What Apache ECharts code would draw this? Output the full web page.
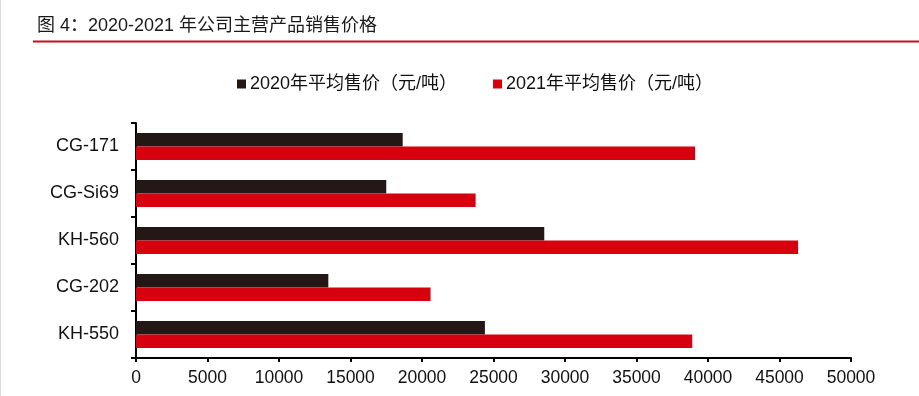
<!DOCTYPE html>
<html>
<head>
<meta charset="utf-8">
<script src="https://cdn.jsdelivr.net/npm/echarts@6/dist/echarts.min.js"></script>
<style>
html,body{margin:0;padding:0;background:#fff;}
#c{width:919px;height:396px;}
</style>
</head>
<body>
<div id="c"></div>
<script>
const titleText = '图 4：2020-2021 年公司主营产品销售价格';
const categories = ['CG-171', 'CG-Si69', 'KH-560', 'CG-202', 'KH-550'];
const seriesNames = ['2020年平均售价（元/吨）', '2021年平均售价（元/吨）'];
const price2020 = [18650, 17500, 28550, 13450, 24400];
const price2021 = [39100, 23750, 46300, 20600, 38900];
const xTicks = { min: 0, max: 50000, interval: 5000 };

const FONT = '"Liberation Sans", Arial, "Noto Sans CJK SC", sans-serif';
const chart = echarts.init(document.getElementById('c'), null, { renderer: 'canvas' });
chart.setOption({
  backgroundColor: '#fff',
  animation: false,
  textStyle: { fontFamily: FONT },
  graphic: [
    { type: 'rect', left: 0, top: 0, shape: { x: 0, y: 0, width: 1, height: 396 }, style: { fill: '#d9d9d9' } },
    { type: 'text', left: 37, top: 17, style: { text: titleText, font: '18px ' + FONT, fill: '#1a1a1a' } },
    { type: 'line', shape: { x1: 33, y1: 41.5, x2: 919, y2: 41.5 }, style: { stroke: '#c4101c', lineWidth: 2 } }
  ],
  legend: {
    left: 232, top: 70,
    itemWidth: 9, itemHeight: 9, itemGap: 36,
    icon: 'rect',
    textStyle: { fontSize: 18, color: '#111', fontFamily: FONT, padding: [0, 0, 0, -1] },
    data: seriesNames
  },
  grid: { left: 136, right: 68, top: 123, bottom: 38, containLabel: false },
  xAxis: {
    type: 'value',
    min: xTicks.min, max: xTicks.max, interval: xTicks.interval,
    axisLine: { show: true, lineStyle: { color: '#000', width: 2 } },
    axisTick: { show: true, length: 4, lineStyle: { color: '#000', width: 2 } },
    axisLabel: { fontSize: 17.5, color: '#111', margin: 11, fontFamily: FONT, formatter: v => String(v) },
    splitLine: { show: false }
  },
  yAxis: {
    type: 'category',
    inverse: true,
    data: categories,
    axisLine: { show: true, lineStyle: { color: '#000', width: 2 } },
    axisTick: { show: true, length: 5, lineStyle: { color: '#000', width: 2 } },
    axisLabel: { fontSize: 18, color: '#111', margin: 17, fontFamily: FONT }
  },
  series: [
    { name: seriesNames[0], type: 'bar', data: price2020, barWidth: 13.5, barGap: '0%', itemStyle: { color: '#231816' } },
    { name: seriesNames[1], type: 'bar', data: price2021, barWidth: 13.5, barGap: '0%', itemStyle: { color: '#d7000f' } }
  ]
});
</script>
</body>
</html>
